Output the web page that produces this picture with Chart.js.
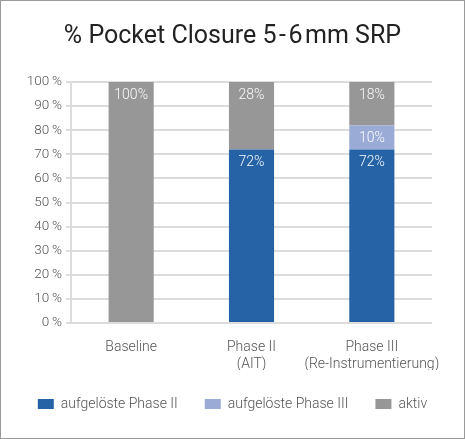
<!DOCTYPE html>
<html>
<head>
<meta charset="utf-8">
<script src="https://cdn.jsdelivr.net/npm/chart.js@4"></script>
<style>
  html, body { margin: 0; padding: 0; background: #fff; }
  #wrap { position: relative; width: 465px; height: 439px; }
  #frame { position: absolute; left: 0; top: 0; width: 465px; height: 439px; box-sizing: border-box; border: 1px solid #9a9a9a; pointer-events: none; }
</style>
</head>
<body>
<div id="wrap">
  <canvas id="chart" width="465" height="439"></canvas>
  <div id="frame"></div>
</div>
<script>
const categories = ['Baseline', ['Phase II', '(AIT)'], ['Phase III', '(Re-Instrumentierung)']];
const resolvedPhase2 = [0, 72, 72];
const resolvedPhase3 = [0, 0, 10];
const active = [100, 28, 18];

const textFont = 'Roboto, "Noto Sans", sans-serif';

// white value labels near the top of each segment
const valueLabels = {
    id: 'valueLabels',
    afterDatasetsDraw(chart) {
        const ctx = chart.ctx;
        ctx.save();
        ctx.fillStyle = 'rgba(255,255,255,0.96)';
        ctx.font = '300 14px ' + textFont;
        ctx.textAlign = 'center';
        ctx.textBaseline = 'middle';
        chart.data.datasets.forEach((ds, i) => {
            const meta = chart.getDatasetMeta(i);
            meta.data.forEach((bar, j) => {
                const v = ds.data[j];
                if (!v) return;
                ctx.fillText(v + '%', bar.x, bar.y + 13);
            });
        });
        ctx.restore();
    }
};

new Chart(document.getElementById('chart'), {
    type: 'bar',
    data: {
        labels: categories,
        datasets: [
            { label: 'aufgelöste Phase II', data: resolvedPhase2, backgroundColor: '#2563a6' },
            { label: 'aufgelöste Phase III', data: resolvedPhase3, backgroundColor: '#9aabd6' },
            { label: 'aktiv', data: active, backgroundColor: '#979797' }
        ]
    },
    options: {
        responsive: false,
        animation: false,
        layout: { padding: { top: 0, bottom: 18, left: 0, right: 0 } },
        datasets: { bar: { barPercentage: 0.75, categoryPercentage: 0.5 } },
        scales: {
            x: {
                stacked: true,
                grid: { display: false },
                border: { display: false },
                ticks: { color: '#555', font: { family: textFont, size: 14, weight: 300 }, padding: 8,
                    maxRotation: 0, autoSkip: false },
                afterFit: s => { s.height = 47; }
            },
            y: {
                stacked: true,
                min: 0, max: 100,
                ticks: { stepSize: 10, color: '#555', font: { family: textFont, size: 13.5, weight: 300 }, padding: 4,
                    callback: v => v + '\u2009%' },
                grid: { color: '#dcdcdc', lineWidth: 2, tickLength: 5 },
                border: { color: '#dcdcdc', width: 2 },
                afterFit: s => { s.width = 71; }
            },
            y2: {
                position: 'right',
                display: true,
                grid: { display: false },
                border: { display: false },
                ticks: { display: false },
                afterFit: s => { s.width = 33; }
            }
        },
        plugins: {
            title: {
                display: true,
                text: '% Pocket Closure 5\u200a-\u200a6\u200amm SRP',
                color: '#222',
                font: { family: textFont, size: 25, weight: 'normal' },
                padding: { top: 22, bottom: 30 }
            },
            legend: {
                position: 'bottom',
                labels: {
                    color: '#555',
                    font: { family: textFont, size: 14, weight: 300 },
                    boxWidth: 16, boxHeight: 10,
                    padding: 27
                }
            },
            tooltip: { enabled: false }
        }
    },
    plugins: [valueLabels]
});
</script>
</body>
</html>
